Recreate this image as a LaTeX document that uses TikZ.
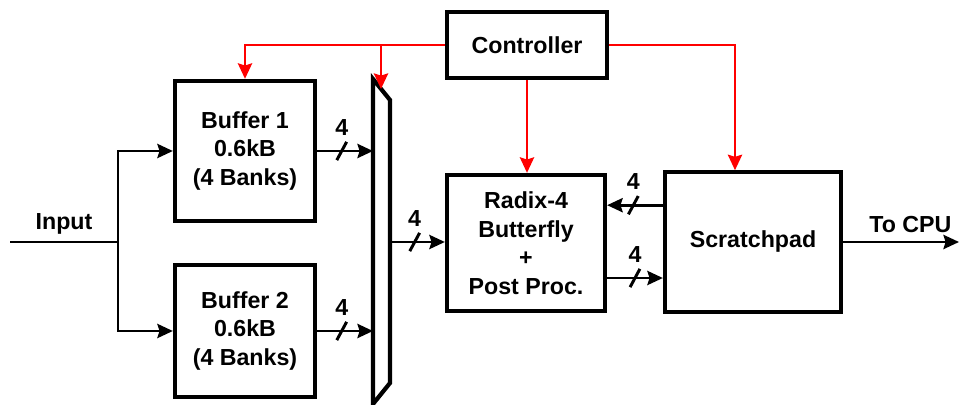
\documentclass[tikz,border=0pt]{standalone}
\usepackage{fontspec}
\setmainfont{Liberation Sans}
\usetikzlibrary{positioning, arrows.meta}

\begin{document}
\begin{tikzpicture}[x=0.025cm, y=-0.025cm,
            block/.style={rectangle, draw, line width=3pt, align=center, inner sep=0pt, font=\bfseries\fontsize{16.5}{20.6}\selectfont},
            arrow/.style={-{Stealth[length=11pt, width=10pt, inset=1.5pt]}, line width=2.1pt},
            wire/.style={line width=2.1pt},
            ctrl/.style={-{Stealth[length=11pt, width=10pt, inset=1.5pt]}, line width=2.1pt, red},
            lbl/.style={font=\bfseries\fontsize{16.5}{20}\selectfont},
            bus/.pic={\draw[-, line width=2.1pt] (-3.5pt,-6.5pt) -- (3.5pt,6.5pt); \node[lbl] at (0,17pt) {4};}
        ]
            \useasboundingbox (0,0) rectangle (960,405);

            \node[block, minimum width=4.0cm, minimum height=1.65cm] (controller) at (527,45) {Controller};
            \node[block, minimum width=3.5cm, minimum height=3.5cm] (buf1) at (245,151) {Buffer 1\\0.6kB\\(4 Banks)};
            \node[block, minimum width=3.5cm, minimum height=3.3cm] (buf2) at (245,331) {Buffer 2\\0.6kB\\(4 Banks)};
            \node[block, minimum width=3.95cm, minimum height=3.4cm, font=\bfseries\fontsize{16.5}{20.3}\selectfont] (radix) at (526,243) {Radix-4\\Butterfly\\+\\Post Proc.};
            \node[block, minimum width=4.4cm, minimum height=3.48cm] (scratch) at (753,242) {Scratchpad};

            % mux
            \coordinate (mtl) at (373,79);
            \coordinate (mtr) at (390,100);
            \coordinate (mbr) at (390,383);
            \coordinate (mbl) at (373,404);
            \coordinate (mtop) at (381,89);
            \coordinate (mout) at (390,242);
            \draw[line width=3pt] (mtl) -- (mtr) -- (mbr) -- (mbl) -- cycle;

            % input and output
            \coordinate (in) at (10,242);
            \coordinate (split) at (118,242);
            \coordinate (cpu) at (959,242);
            \draw[wire] (in) -- node[lbl, above=1pt, pos=.5] {Input} (split);
            \draw[arrow] (split) |- (buf1.west);
            \draw[arrow] (split) |- (buf2.west);
            \draw[arrow] (scratch.east) -- node[lbl, above=2pt, pos=.58] {To CPU} (cpu);

            % data paths
            \draw[arrow] (buf1.east) -- pic[pos=.44]{bus} (buf1.east -| mtl);
            \draw[arrow] (buf2.east) -- pic[pos=.44]{bus} (buf2.east -| mtl);
            \draw[arrow] (mout) -- pic[pos=.45]{bus} (mout -| radix.west);
            \draw[arrow] ([yshift=0.92cm]scratch.west) -- pic[pos=.53]{bus} ([yshift=0.92cm]scratch.west -| radix.east);
            \draw[arrow] ([yshift=-0.9cm]scratch.west -| radix.east) -- pic[pos=.5]{bus} ([yshift=-0.9cm]scratch.west);

            % control
            \draw[ctrl] (controller.west) -| (buf1.north);
            \draw[ctrl] (mtop |- controller.west) -- (mtop);
            \draw[ctrl] (controller.south) -- (controller.south |- radix.north);
            \draw[ctrl] (controller.east) -| ([xshift=-0.45cm]scratch.north);

        \end{tikzpicture}
\end{document}
